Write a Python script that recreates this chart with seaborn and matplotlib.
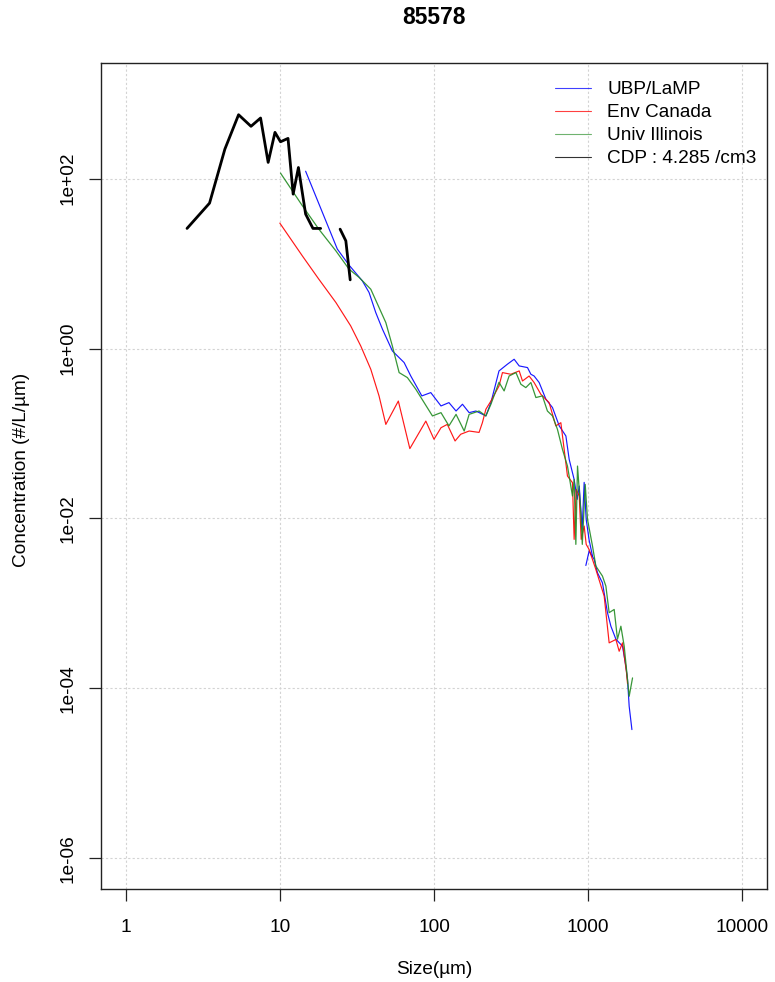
import numpy as np
import pandas as pd
import seaborn as sns
from matplotlib import pyplot as plt
from matplotlib.lines import Line2D

sns.set_style("white")
plt.rcParams.update({
    "font.family": ["Liberation Sans", "DejaVu Sans"],
    "font.size": 13.7,
    "text.color": "black",
    "axes.labelcolor": "black",
    "xtick.color": "black",
    "ytick.color": "black",
})

# UBP/LaMP (two probes, plotted as two pieces)
ubp_size_a = [14.7, 23.6, 28.1, 34.3, 37.9, 41.9, 46.3, 53.7, 64.0, 70.7, 83.4, 95.3,
              111, 125, 139, 153, 169, 187, 217, 234, 264, 299, 331, 357, 404, 425,
              446, 481, 532, 587, 649, 717, 753, 811, 849, 875, 914, 942, 971, 1014, 1067]
ubp_conc_a = [122, 14.8, 9.6, 6.25, 4.57, 2.65, 1.69, 0.937, 0.684, 0.475, 0.277, 0.303,
              0.211, 0.231, 0.184, 0.221, 0.176, 0.184, 0.161, 0.231, 0.545, 0.653, 0.748,
              0.624, 0.597, 0.498, 0.475, 0.398, 0.253, 0.202, 0.123, 0.0935, 0.0497,
              0.0288, 0.0168, 0.0241, 0.00745, 0.0266, 0.00977, 0.0056, 0.0036]
ubp_size_b = [966, 1014, 1094, 1149, 1238, 1334, 1404, 1513, 1670, 1757, 1800, 1845, 1922]
ubp_conc_b = [0.0028, 0.00413, 0.0033, 0.0023, 0.00175, 0.00078, 0.00054, 0.00038,
              0.000314, 0.000182, 0.000127, 6.17e-5, 3.28e-5]

# Env Canada
env_size = [10.0, 14.0, 17.9, 23.1, 28.8, 33.5, 38.9, 44.0, 48.7, 58.7, 69.7, 88.5, 100,
            111, 122, 137, 149, 169, 196, 206, 217, 234, 264, 278, 315, 357, 375, 414,
            446, 493, 558, 617, 665, 734, 791, 811, 836, 875, 901, 942, 971, 1014, 1122,
            1270, 1368, 1513, 1589, 1670, 1774, 1800]
env_conc = [29.9, 12.3, 6.55, 3.48, 1.85, 1.07, 0.570, 0.277, 0.128, 0.241, 0.0664, 0.140,
            0.0855, 0.117, 0.128, 0.0817, 0.098, 0.107, 0.103, 0.134, 0.193, 0.241, 0.362,
            0.521, 0.498, 0.545, 0.415, 0.475, 0.398, 0.290, 0.231, 0.123, 0.134, 0.0316,
            0.0264, 0.00568, 0.0220, 0.0184, 0.00568, 0.00815, 0.00496, 0.00432, 0.00251,
            0.00122, 0.000344, 0.000377, 0.000274, 0.000344, 0.000152, 0.000114]

# Univ Illinois
uiuc_size = [10.1, 14.0, 17.9, 23.1, 28.1, 32.7, 38.9, 48.7, 53.7, 59.4, 67.2, 76.2, 97.7,
             111, 125, 139, 157, 169, 196, 217, 234, 264, 285, 307, 340, 366, 394, 425,
             458, 505, 544, 587, 632, 681, 734, 791, 811, 832, 853, 897, 916, 957, 990,
             1067, 1122, 1238, 1303, 1368, 1475, 1549, 1630, 1713, 1800, 1845, 1940]
uiuc_conc = [116, 47.9, 25.4, 14.1, 8.6, 6.86, 4.99, 2.02, 1.07, 0.521, 0.455, 0.332, 0.161,
             0.176, 0.123, 0.168, 0.107, 0.168, 0.184, 0.161, 0.221, 0.401, 0.317, 0.475,
             0.521, 0.380, 0.347, 0.398, 0.265, 0.277, 0.184, 0.161, 0.112, 0.0652, 0.0414,
             0.0184, 0.0288, 0.00496, 0.0414, 0.0117, 0.00496, 0.0252, 0.00977, 0.00473,
             0.00275, 0.0021, 0.0016, 0.00078, 0.00085, 0.00038, 0.00054, 0.000314,
             0.000127, 8.09e-5, 0.000133]

# CDP (bins 20-22 um missing)
cdp_size = [2.5, 3.5, 4.4, 5.4, 6.5, 7.5, 8.4, 9.3, 10.1, 11.3, 12.2, 13.2, 14.7, 16.4,
            18.4, 24.6, 26.8, 28.6]
cdp_conc = [25.9, 51.4, 222, 564, 412, 516, 155, 350, 271, 297, 65.6, 135, 38.2, 25.9,
            25.9, 25.4, 18.5, 6.43]
cdp_piece = [0] * 15 + [1] * 3

ubp = pd.DataFrame({"size": ubp_size_a + ubp_size_b, "conc": ubp_conc_a + ubp_conc_b,
                    "piece": [0] * len(ubp_size_a) + [1] * len(ubp_size_b)})
env = pd.DataFrame({"size": env_size, "conc": env_conc, "piece": 0})
uiuc = pd.DataFrame({"size": uiuc_size, "conc": uiuc_conc, "piece": 0})
cdp = pd.DataFrame({"size": cdp_size, "conc": cdp_conc, "piece": cdp_piece})

fig = plt.figure(figsize=(7.75, 9.82), dpi=100)
ax = fig.add_axes([101 / 775, 1 - 889 / 982, 666 / 775, 826 / 982])
ax.set_xscale("log")
ax.set_yscale("log")

series = [(ubp, "blue", 0.85), (env, "red", 0.85), (uiuc, "forestgreen", 0.9), (cdp, "black", 2.0)]
for df, col, lw in series:
    sns.lineplot(data=df, x="size", y="conc", units="piece", estimator=None, sort=False,
                 color=col, lw=lw, alpha=0.9 if col != "black" else 1, ax=ax, zorder=3)

ax.set_xlim(10 ** -0.16, 10 ** 4.16)
ax.set_ylim(10 ** -6.36, 10 ** 3.36)
xt = [1, 10, 100, 1000, 10000]
yt = [1e-6, 1e-4, 1e-2, 1, 1e2]
ax.set_xticks(xt)
ax.set_xticklabels(["1", "10", "100", "1000", "10000"])
ax.set_yticks(yt)
ax.set_yticklabels(["1e-06", "1e-04", "1e-02", "1e+00", "1e+02"], rotation=90, va="center")
ax.minorticks_off()
ax.tick_params(axis="both", direction="out", length=8.5, width=0.9, color="#222222",
               labelsize=13.7, bottom=True, left=True)
ax.tick_params(axis="x", pad=13)
ax.tick_params(axis="y", pad=9)
ax.grid(True, color="#d3d3d3", linestyle=(0, (2, 2)), lw=0.8)
for s in ax.spines.values():
    s.set_color("#222222")
    s.set_linewidth(1.0)
ax.set_xlabel("")
ax.set_ylabel("")

fig.text(434 / 775, 1 - 18 / 982, "85578", ha="center", va="center",
         fontsize=16.5, fontweight="bold")
fig.text(434 / 775, 1 - 970 / 982, "Size(µm)", ha="center", va="center", fontsize=13.7)
fig.text(22 / 775, 1 - 470 / 982, "Concentration (#/L/µm)", ha="center", va="center",
         rotation=90, fontsize=13.7)

handles = [Line2D([], [], color="blue", lw=0.8, alpha=0.75),
           Line2D([], [], color="red", lw=0.8, alpha=0.75),
           Line2D([], [], color="forestgreen", lw=0.8, alpha=0.65),
           Line2D([], [], color="black", lw=0.8, alpha=0.8)]
labels = ["UBP/LaMP", "Env Canada", "Univ Illinois", "CDP : 4.285 /cm3"]
ax.legend(handles, labels, loc="upper left", bbox_to_anchor=(555 / 775, 1 - 81 / 982),
          bbox_transform=fig.transFigure, frameon=False, fontsize=13.7,
          handlelength=1.9, handletextpad=0.84, labelspacing=0.3, borderpad=0,
          borderaxespad=0)

plt.savefig("out.png", dpi=100)
plt.close()
